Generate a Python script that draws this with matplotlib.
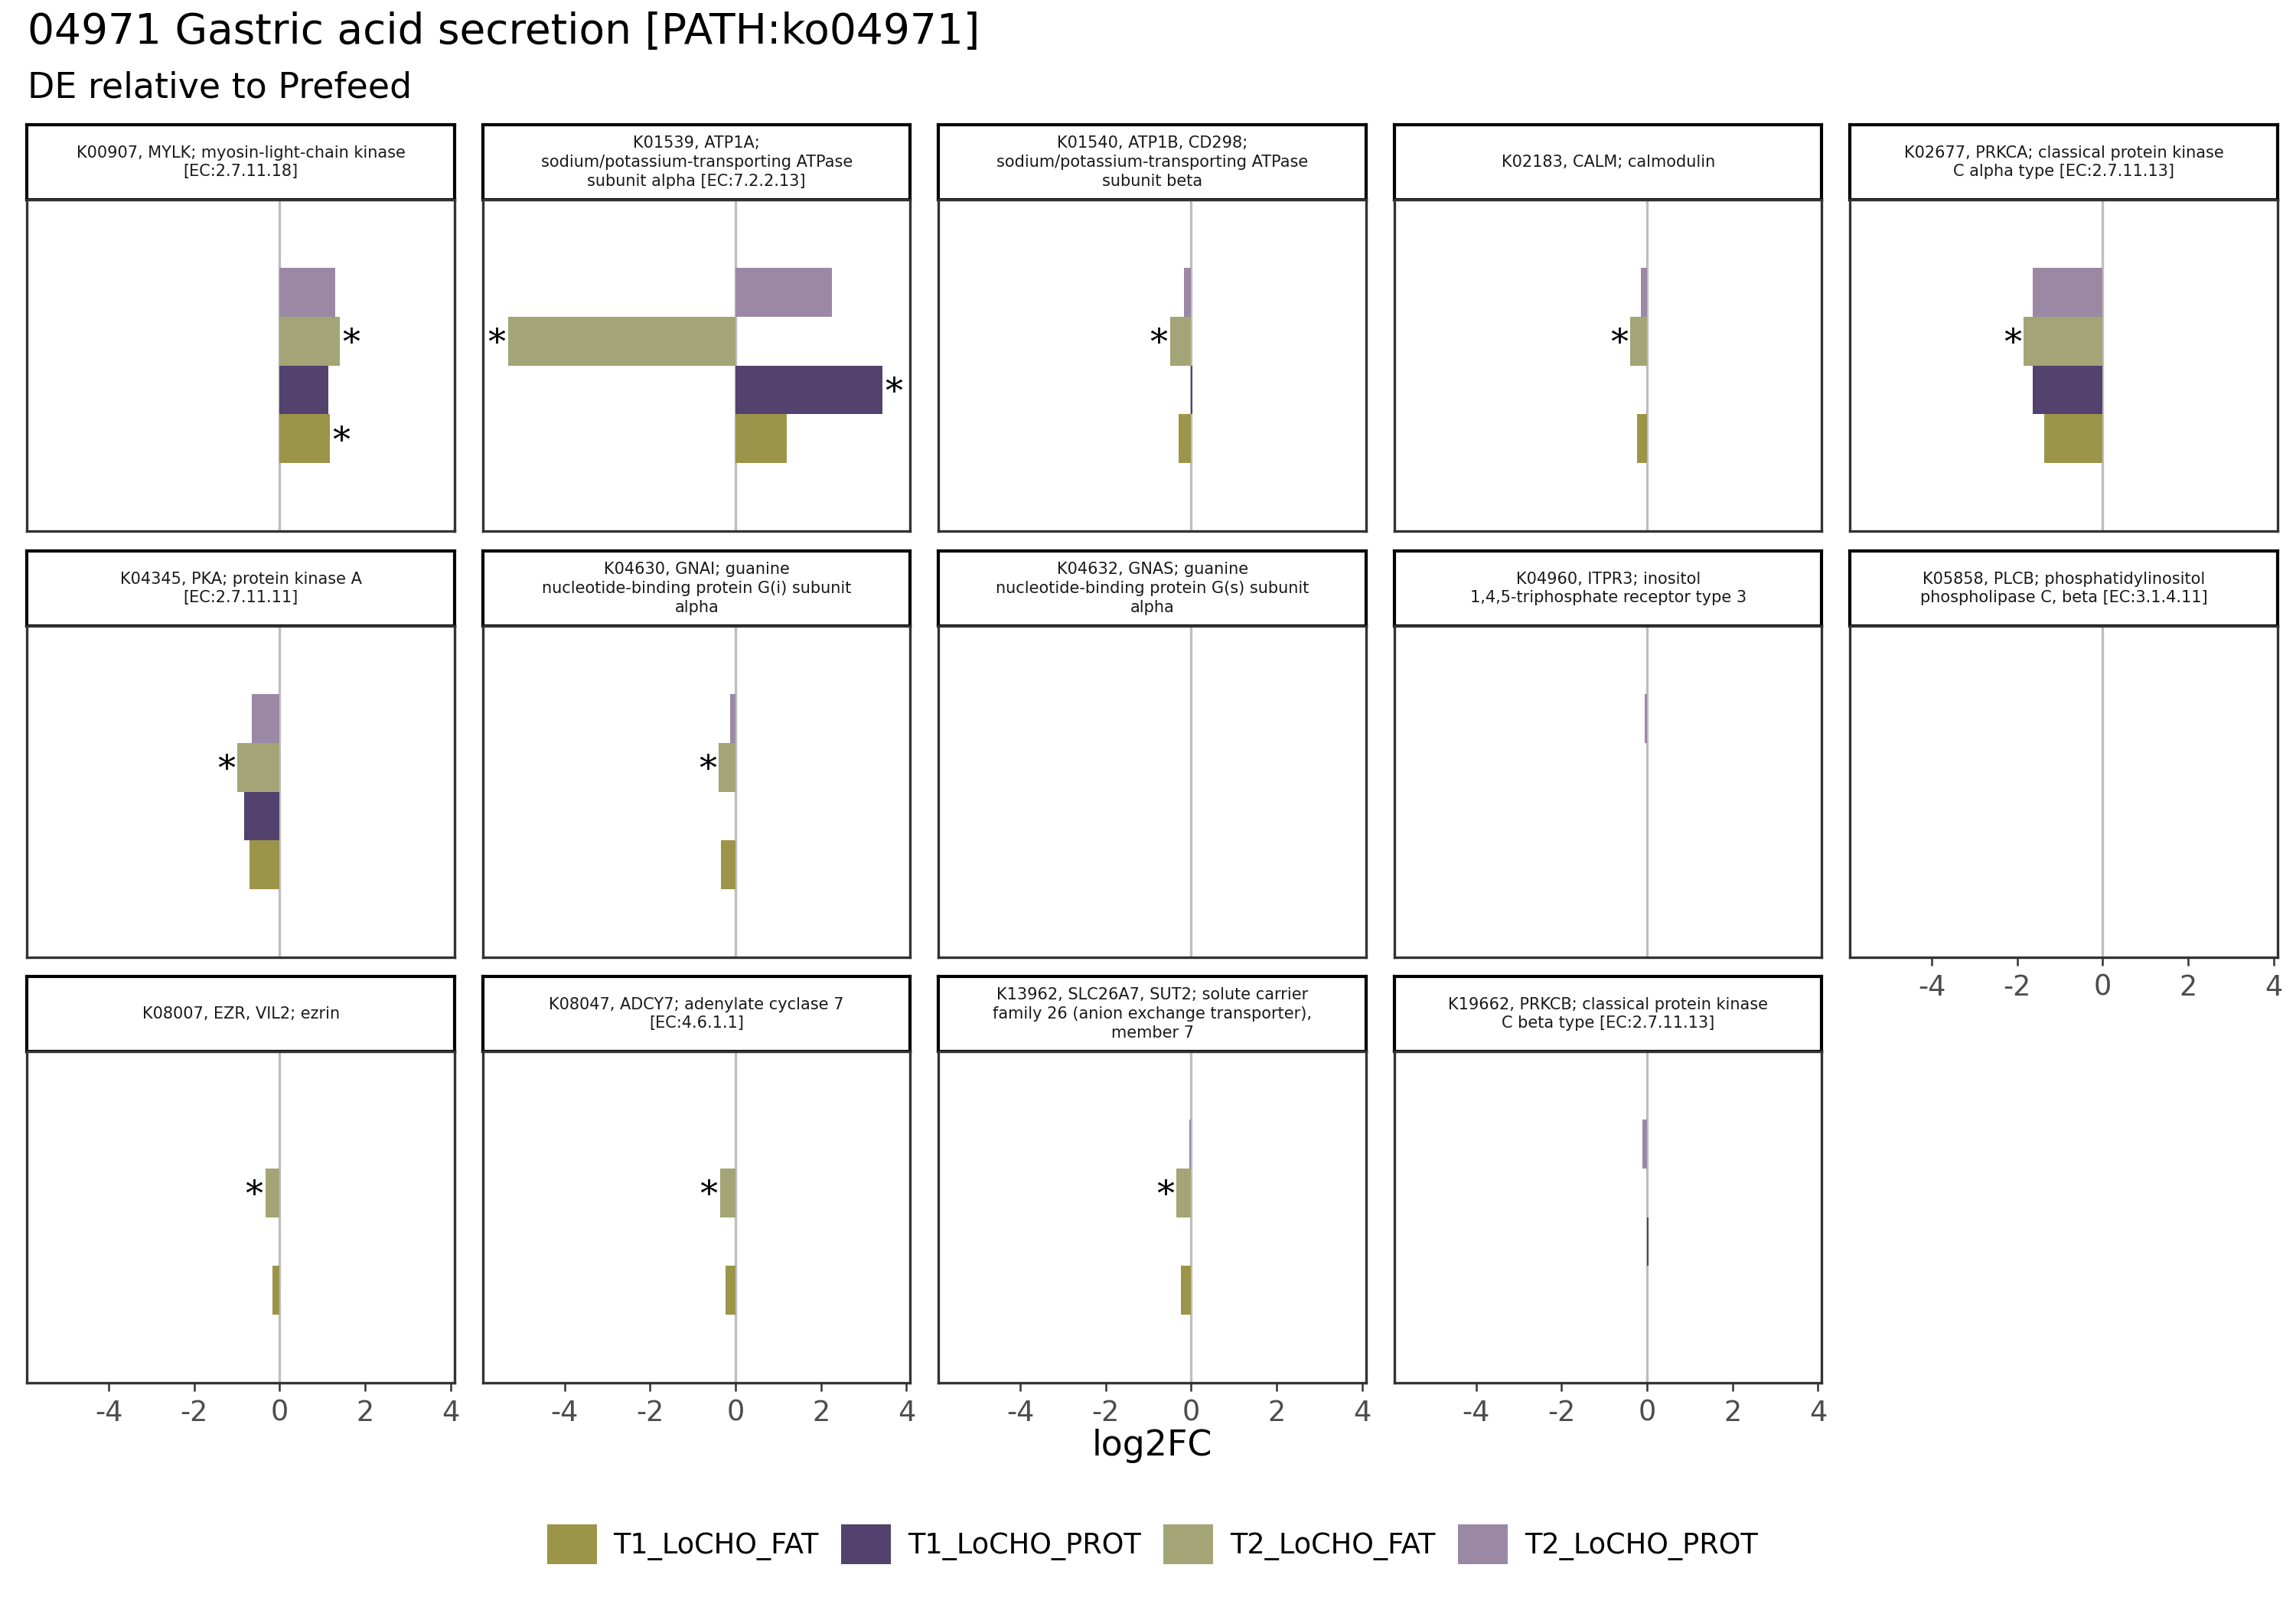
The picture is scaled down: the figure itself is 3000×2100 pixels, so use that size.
import numpy as np
import matplotlib
matplotlib.use("Agg")
import matplotlib.pyplot as plt
from matplotlib.patches import Patch

nan = np.nan

# facet labels (KEGG orthologs), wrapped as in the original strips
ko_labels = [
    "K00907, MYLK; myosin-light-chain kinase\n[EC:2.7.11.18]",
    "K01539, ATP1A;\nsodium/potassium-transporting ATPase\nsubunit alpha [EC:7.2.2.13]",
    "K01540, ATP1B, CD298;\nsodium/potassium-transporting ATPase\nsubunit beta",
    "K02183, CALM; calmodulin",
    "K02677, PRKCA; classical protein kinase\nC alpha type [EC:2.7.11.13]",
    "K04345, PKA; protein kinase A\n[EC:2.7.11.11]",
    "K04630, GNAI; guanine\nnucleotide-binding protein G(i) subunit\nalpha",
    "K04632, GNAS; guanine\nnucleotide-binding protein G(s) subunit\nalpha",
    "K04960, ITPR3; inositol\n1,4,5-triphosphate receptor type 3",
    "K05858, PLCB; phosphatidylinositol\nphospholipase C, beta [EC:3.1.4.11]",
    "K08007, EZR, VIL2; ezrin",
    "K08047, ADCY7; adenylate cyclase 7\n[EC:4.6.1.1]",
    "K13962, SLC26A7, SUT2; solute carrier\nfamily 26 (anion exchange transporter),\nmember 7",
    "K19662, PRKCB; classical protein kinase\nC beta type [EC:2.7.11.13]",
]

groups = ["T1_LoCHO_FAT", "T1_LoCHO_PROT", "T2_LoCHO_FAT", "T2_LoCHO_PROT"]
colors = ["#9C9549", "#52426D", "#A3A576", "#9B88A5"]

# log2FC per ortholog (nan = not detected)
t1_fat = [1.17, 1.20, -0.29, -0.24, -1.37, -0.70, -0.34, nan, nan, nan, -0.17, -0.24, -0.24, nan]
t1_prot = [1.13, 3.43, 0.03, nan, -1.63, -0.84, nan, nan, nan, nan, nan, nan, nan, 0.03]
t2_fat = [1.41, -5.32, -0.50, -0.39, -1.85, -0.99, -0.39, nan, nan, nan, -0.33, -0.36, -0.34, nan]
t2_prot = [1.30, 2.25, -0.17, -0.15, -1.63, -0.65, -0.12, nan, -0.05, nan, nan, nan, -0.05, -0.10]

# significance flags
sig_t1_fat = [1, 0, 0, 0, 0, 0, 0, 0, 0, 0, 0, 0, 0, 0]
sig_t1_prot = [0, 1, 0, 0, 0, 0, 0, 0, 0, 0, 0, 0, 0, 0]
sig_t2_fat = [1, 1, 1, 1, 1, 1, 1, 0, 0, 0, 1, 1, 1, 0]
sig_t2_prot = [0] * 14

values = [t1_fat, t1_prot, t2_fat, t2_prot]
sigs = [sig_t1_fat, sig_t1_prot, sig_t2_fat, sig_t2_prot]

x_ticks = [-4, -2, 0, 2, 4]

plt.rcParams["font.family"] = ["DejaVu Sans"]

W, H = 3000, 2100
fig = plt.figure(figsize=(10, 7), dpi=300)

ncol = 5
col_left = 35.4
col_step = 595.5
panel_w = 558.5
row_top = [163, 720, 1276]
strip_h = 98
panel_h = 433


def fig_rect(x0, y0, w, h):
    return [x0 / W, 1 - (y0 + h) / H, w / W, h / H]


n = len(ko_labels)
for i, label in enumerate(ko_labels):
    r, c = divmod(i, ncol)
    x0 = col_left + c * col_step
    top = row_top[r]

    # facet strip
    sax = fig.add_axes(fig_rect(x0, top, panel_w, strip_h))
    sax.set_xticks([])
    sax.set_yticks([])
    for sp in sax.spines.values():
        sp.set_color("black")
        sp.set_linewidth(1.0)
    sax.text(0.5, 0.5, label, ha="center", va="center", fontsize=5.0,
             linespacing=1.3, color="#1A1A1A", transform=sax.transAxes)

    ax = fig.add_axes(fig_rect(x0, top + strip_h, panel_w, panel_h))
    ax.axvline(0, color="#BEBEBE", lw=0.8, zorder=1)
    for g, (vals, sg) in enumerate(zip(values, sigs)):
        v = vals[i]
        if np.isnan(v):
            continue
        ax.barh(g, v, height=1.0, color=colors[g], edgecolor="none", zorder=2)
        if sg[i]:
            off = 0.06 if v >= 0 else -0.06
            ax.text(v + off, g - 0.08, "*", ha="left" if v >= 0 else "right",
                    va="center", fontsize=11, family="DejaVu Serif", color="black", zorder=3)
    ax.set_xlim(-5.91, 4.09)
    ax.set_ylim(-1.89, 4.89)
    ax.set_yticks([])
    for sp in ax.spines.values():
        sp.set_color("#333333")
        sp.set_linewidth(0.8)
    if i + ncol >= n:
        ax.set_xticks(x_ticks)
        ax.set_xticklabels([str(t) for t in x_ticks])
        ax.tick_params(axis="x", length=2.75, width=0.6, color="#333333",
                       labelsize=8.8, labelcolor="#4D4D4D", pad=2.2)
    else:
        ax.set_xticks([])

fig.text(36 / W, 1 - 42 / H, "04971 Gastric acid secretion [PATH:ko04971]",
         ha="left", va="center", fontsize=13.2, color="black")
fig.text(36 / W, 1 - 115 / H, "DE relative to Prefeed",
         ha="left", va="center", fontsize=11, color="black")
center_x = (col_left + (col_left + 4 * col_step + panel_w)) / 2 / W
fig.text(center_x, 1 - 1890 / H, "log2FC",
         ha="center", va="center", fontsize=11, color="black")

handles = [Patch(facecolor=c, edgecolor="none", label=g) for g, c in zip(groups, colors)]
fig.legend(handles=handles, loc="center", bbox_to_anchor=(center_x, 1 - 2018 / H), ncol=4,
           frameon=False, fontsize=8.8, handlelength=1.77, handleheight=1.8,
           handletextpad=0.6, columnspacing=0.8)

fig.savefig("out.png", dpi=300, facecolor="white")
